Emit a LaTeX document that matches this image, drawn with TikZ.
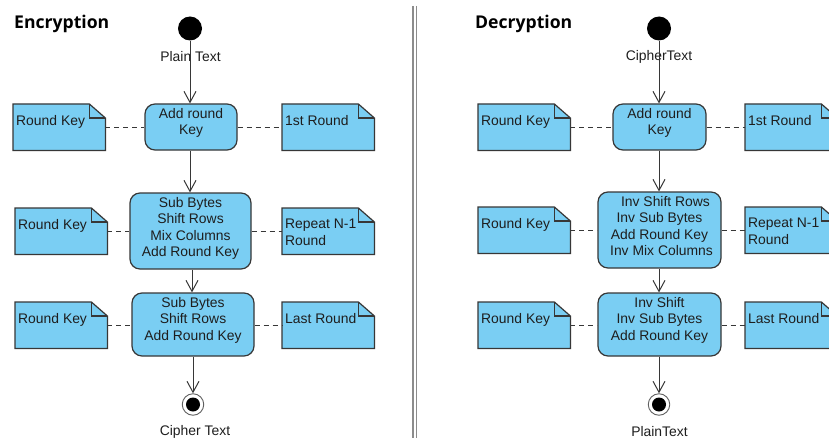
\documentclass[tikz,border=0pt]{standalone}
\usepackage{fontspec}
\setmainfont{Liberation Sans}
\newfontfamily\titlefont{Open Sans}
\usetikzlibrary{arrows.meta,calc}
\definecolor{boxblue}{RGB}{122,206,243}
\definecolor{edgecol}{RGB}{55,55,55}
\definecolor{txtcol}{RGB}{30,30,30}
\definecolor{sepcol}{RGB}{140,140,140}
\tikzset{
  box/.style={draw=edgecol, line width=1.2pt, fill=boxblue, rounded corners=10pt, inner sep=0pt},
  boxtext/.style={inner sep=0pt, align=center, text=txtcol, font=\fontsize{13.9}{16.6}\selectfont},
  notebox/.style={inner sep=0pt, minimum width=92pt, minimum height=46pt},
  notetext/.style={inner sep=0pt, align=left, text=txtcol, font=\fontsize{13.9}{16.6}\selectfont},
  lbl/.style={inner sep=0pt, text=txtcol, font=\fontsize{13.9}{16.6}\selectfont},
  title/.style={inner sep=0pt, anchor=base west, font=\titlefont\bfseries\fontsize{17.6}{20}\selectfont},
  flow/.style={draw=edgecol, line width=1pt, -{Straight Barb[length=11pt,width=12pt,line width=1pt]}},
  link/.style={draw=edgecol, line width=1.1pt, dash pattern=on 5pt off 4pt},
  startnode/.style={circle, fill=black, minimum size=24pt, inner sep=0pt},
  endnode/.style={circle, draw=edgecol!80, line width=0.9pt, fill=white, minimum size=21.5pt, inner sep=0pt},
}
\newcommand\umlnote[4]{%
  \node[notebox, anchor=north west] (#1) at (#2,#3) {};
  \filldraw[fill=boxblue, draw=edgecol, line width=1.2pt]
    (#1.north west) -- ([xshift=-16pt]#1.north east) -- ([yshift=-14pt]#1.north east)
    -- (#1.south east) -- (#1.south west) -- cycle;
  \draw[edgecol, line width=1.2pt, line join=miter] ([xshift=-16pt]#1.north east) |- ([yshift=-14pt]#1.north east);
  \node[notetext, anchor=north west] (#1t) at ([xshift=3pt,yshift=-11pt]#1.north west) {#4};
}
\begin{document}
\begin{tikzpicture}[x=1pt,y=-1pt]
\useasboundingbox (0,0) rectangle (829,441);
\clip (0,0) rectangle (829,441);
\fill[white] (0,0) rectangle (829,441);

% separator
\draw[sepcol, line width=1.6pt] (413,6) -- (413,438);
\draw[sepcol, line width=1.6pt] (416.5,6) -- (416.5,438);

% ================= Encryption =================
\node[title] (etitle) at (14,29) {Encryption};
\node[startnode] (es) at (190,28.5) {};
\node[lbl] (esl) at (190.5,57) {Plain Text};

\node[box, minimum width=92pt, minimum height=46pt] (e1) at (191,127) {};
\node[boxtext, anchor=north] (e1t) at ([yshift=-4.5pt]e1.north) {Add round\\Key};
\node[box, minimum width=121pt, minimum height=76pt] (e2) at (190.5,231) {};
\node[boxtext, anchor=north] (e2t) at ([yshift=-4.5pt]e2.north) {Sub Bytes\\Shift Rows\\Mix Columns\\Add Round Key};
\node[box, minimum width=122pt, minimum height=63pt] (e3) at (193,324.5) {};
\node[boxtext, anchor=north] (e3t) at ([yshift=-4.5pt]e3.north) {Sub Bytes\\Shift Rows\\Add Round Key};

\node[endnode] (ee) at (193,404.5) {};
\node[circle, fill=black, minimum size=14pt, inner sep=0pt] (eei) at (ee.center) {};
\node[lbl] (eel) at (195,432) {Cipher Text};

\umlnote{en1l}{13}{104}{Round Key}
\umlnote{en1r}{282}{104}{1st Round}
\umlnote{en2l}{15}{208}{Round Key}
\umlnote{en2r}{282}{208}{Repeat N-1\\Round}
\umlnote{en3l}{15}{302}{Round Key}
\umlnote{en3r}{282}{302}{Last Round}

\draw[flow] (es.south) -- (es.south |- e1.north);
\draw[flow] ([xshift=-1pt]e1.south) -- ([xshift=-1pt]e1.south |- e2.north);
\draw[flow] ([xshift=1.5pt]e2.south) -- ([xshift=1.5pt]e2.south |- e3.north);
\draw[flow] (e3.south) -- (ee.north);

\draw[link] (en1l.east) -- (en1l.east -| e1.west);
\draw[link] (e1.east |- en1r.west) -- (en1r.west);
\draw[link] (en2l.east) -- (en2l.east -| e2.west);
\draw[link] (e2.east |- en2r.west) -- (en2r.west);
\draw[link] (en3l.east) -- (en3l.east -| e3.west);
\draw[link] (e3.east |- en3r.west) -- (en3r.west);

% ================= Decryption =================
\node[title] (dtitle) at (475,29) {Decryption};
\node[startnode] (ds) at (659,28.5) {};
\node[lbl] (dsl) at (659,57) {CipherText};

\node[box, minimum width=93pt, minimum height=46pt] (d1) at (659.5,127) {};
\node[boxtext, anchor=north] (d1t) at ([yshift=-4.5pt]d1.north) {Add round\\Key};
\node[box, minimum width=123pt, minimum height=76pt] (d2) at (659.5,230) {};
\node[boxtext, anchor=north] (d2t) at ([yshift=-4.5pt]d2.north) {\hspace*{12pt}Inv Shift Rows\\Inv Sub Bytes\\Add Round Key\\\hspace*{4pt}Inv Mix Columns};
\node[box, minimum width=123pt, minimum height=63pt] (d3) at (659.5,324.5) {};
\node[boxtext, anchor=north] (d3t) at ([yshift=-4.5pt]d3.north) {Inv Shift\\Inv Sub Bytes\\Add Round Key};

\node[endnode] (de) at (659,404.5) {};
\node[circle, fill=black, minimum size=14pt, inner sep=0pt] (dei) at (de.center) {};
\node[lbl] (del) at (659.5,432) {PlainText};

\umlnote{dn1l}{478}{104}{Round Key}
\umlnote{dn1r}{745}{104}{1st Round}
\umlnote{dn2l}{478}{207}{Round Key}
\umlnote{dn2r}{745}{207}{Repeat N-1\\Round}
\umlnote{dn3l}{478}{302}{Round Key}
\umlnote{dn3r}{745}{302}{Last Round}

\draw[flow] (ds.south) -- (ds.south |- d1.north);
\draw[flow] ([xshift=-0.5pt]d1.south) -- ([xshift=-0.5pt]d1.south |- d2.north);
\draw[flow] ([xshift=-0.5pt]d2.south) -- ([xshift=-0.5pt]d2.south |- d3.north);
\draw[flow] ([xshift=-0.5pt]d3.south) -- (de.north);

\draw[link] (dn1l.east) -- (dn1l.east -| d1.west);
\draw[link] (d1.east |- dn1r.west) -- (dn1r.west);
\draw[link] (dn2l.east) -- (dn2l.east -| d2.west);
\draw[link] (d2.east |- dn2r.west) -- (dn2r.west);
\draw[link] (dn3l.east) -- (dn3l.east -| d3.west);
\draw[link] (d3.east |- dn3r.west) -- (dn3r.west);
\end{tikzpicture}
\end{document}
